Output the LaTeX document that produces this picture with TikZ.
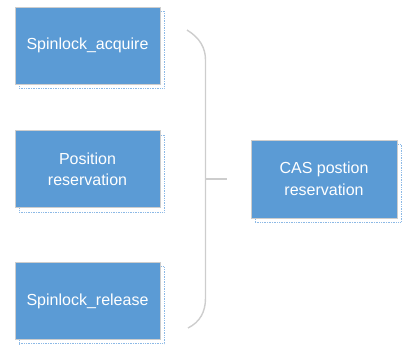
\documentclass[tikz,border=0pt]{standalone}
\usepackage{fontspec}
\setmainfont{Liberation Sans}
\usepackage{xcolor}
\usetikzlibrary{positioning,shadows}
\definecolor{sblue}{RGB}{91,155,213}
\definecolor{sgray}{RGB}{205,205,205}
\definecolor{sdot}{RGB}{140,185,230}

\begin{document}
\begin{tikzpicture}[x=1pt,y=-1pt,
  box/.style={draw=sgray,line width=0.9pt,fill=sblue,text=white,minimum width=145pt,minimum height=77pt,inner sep=2pt,align=center,font=\fontsize{16}{21.5}\selectfont,
    drop shadow={shadow xshift=4pt,shadow yshift=-4pt,fill=none,draw=sdot,densely dotted,line width=0.7pt,opacity=1}},
  brace/.style={draw=sgray,line width=1.4pt}]
\useasboundingbox (0,0) rectangle (412,350);
\node[box] (acq) at (87.5,45.5) {Spinlock\_acquire};
\node[box,below=46pt of acq] (pos) {Position\\reservation};
\node[box,below=54pt of pos] (rel) {Spinlock\_release};
\node[box,minimum width=146pt,minimum height=78pt] (cas) at (324,179) {CAS postion\\reservation};
% brace
\coordinate (btop) at (187,30);
\coordinate (bbot) at (188,328);
\coordinate (bmid) at (205.5,179);
\coordinate (btip) at (227,179);
\draw[brace] (btop) .. controls (200,38) and (205.5,48) .. (205.5,60) -- (205.5,298) .. controls (205.5,312) and (200,322) .. (bbot);
\draw[brace] (bmid) -- (btip);
\end{tikzpicture}
\end{document}
